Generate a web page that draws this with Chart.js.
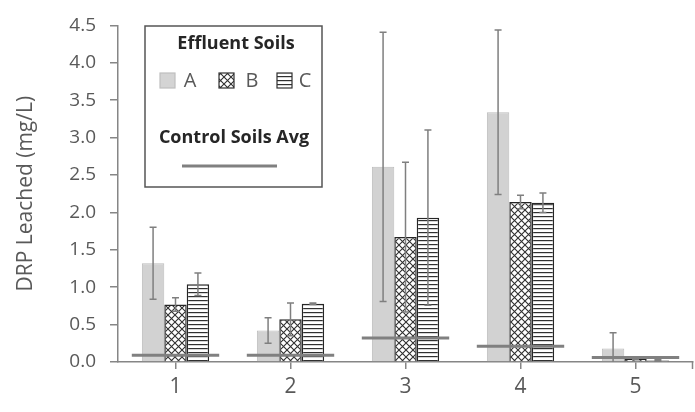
<!DOCTYPE html>
<html>
<head>
<meta charset="utf-8">
<script src="https://cdn.jsdelivr.net/npm/chart.js@4/dist/chart.umd.min.js"></script>
<style>
  html, body { margin: 0; padding: 0; background: #fff; }
  #wrap { width: 695px; height: 412px; }
</style>
</head>
<body>
<div id="wrap"><canvas id="chart" width="695" height="412"></canvas></div>
<script>
// ====== Data ======
const categories = ["1", "2", "3", "4", "5"];
const soilA = [1.32, 0.42, 2.61, 3.34, 0.18];
const soilAErr = [0.48, 0.17, 1.80, 1.10, 0.21];
const soilB = [0.77, 0.57, 1.67, 2.14, 0.04];
const soilBErr = [0.09, 0.22, 1.00, 0.09, 0.01];
const soilC = [1.04, 0.78, 1.93, 2.13, 0.02];
const soilCErr = [0.15, 0.01, 1.17, 0.13, 0.01];
const controlAvg = [0.09, 0.09, 0.32, 0.21, 0.06];
const yTicks = [0, 0.5, 1, 1.5, 2, 2.5, 3, 3.5, 4, 4.5];

const FONT = "'Open Sans', sans-serif";
const GREY_TXT = "#595959";
const AXIS = "#868686";

// ====== Patterns ======
function crossHatch() {
  const c = document.createElement("canvas");
  c.width = 7; c.height = 7;
  const g = c.getContext("2d");
  g.fillStyle = "#fff";
  g.fillRect(0, 0, 7, 7);
  g.strokeStyle = "#303030";
  g.lineWidth = 1.1;
  g.beginPath();
  g.moveTo(-1, -1); g.lineTo(8, 8);
  g.moveTo(-1, 8); g.lineTo(8, -1);
  g.stroke();
  return g.createPattern(c, "repeat");
}

function hLines() {
  const c = document.createElement("canvas");
  c.width = 4; c.height = 4;
  const g = c.getContext("2d");
  g.fillStyle = "#fff";
  g.fillRect(0, 0, 4, 4);
  g.fillStyle = "#303030";
  g.fillRect(0, 0, 4, 1.2);
  return g.createPattern(c, "repeat");
}

const patB = crossHatch();
const patC = hLines();

// ====== Error bars + control lines + legend ======
const extras = {
  id: "extras",
  afterDatasetsDraw(chart) {
    const ctx = chart.ctx;
    const x = chart.scales.x, y = chart.scales.y;
    const errs = [soilAErr, soilBErr, soilCErr];
    const vals = [soilA, soilB, soilC];

    ctx.save();
    // error bars
    ctx.strokeStyle = "#7f7f7f";
    ctx.lineWidth = 1.5;
    errs.forEach((err, d) => {
      const meta = chart.getDatasetMeta(d);
      meta.data.forEach((bar, i) => {
        const top = y.getPixelForValue(vals[d][i] + err[i]);
        const low = vals[d][i] - err[i];
        const bot = y.getPixelForValue(Math.max(0, low));
        ctx.beginPath();
        ctx.moveTo(bar.x, top); ctx.lineTo(bar.x, bot);
        ctx.moveTo(bar.x - 3.5, top); ctx.lineTo(bar.x + 3.5, top);
        if (low > 0) { ctx.moveTo(bar.x - 3.5, bot); ctx.lineTo(bar.x + 3.5, bot); }
        ctx.stroke();
      });
    });

    // control soils average lines
    const half = (x.width / categories.length) * 0.38;
    ctx.strokeStyle = "#808080";
    ctx.lineWidth = 3;
    controlAvg.forEach((v, i) => {
      const cx = x.getPixelForValue(i);
      const py = y.getPixelForValue(v);
      ctx.beginPath();
      ctx.moveTo(cx - half, py); ctx.lineTo(cx + half, py);
      ctx.stroke();
    });

    // end tick on the right of the x axis
    ctx.strokeStyle = AXIS;
    ctx.lineWidth = 1.5;
    ctx.beginPath();
    ctx.moveTo(x.right - 0.5, y.bottom); ctx.lineTo(x.right - 0.5, y.bottom + 7);
    ctx.stroke();

    // legend box
    const L = 145, T = 26, W = 177, H = 161;
    ctx.fillStyle = "#fff";
    ctx.fillRect(L, T, W, H);
    ctx.strokeStyle = "#555";
    ctx.lineWidth = 1.5;
    ctx.strokeRect(L, T, W, H);

    ctx.fillStyle = "#262626";
    ctx.textAlign = "center";
    ctx.textBaseline = "middle";
    ctx.font = "bold 18px " + FONT;
    ctx.fillText("Effluent Soils", 236, 44);
    ctx.fillText("Control Soils Avg", 234, 138);

    // swatches
    const sw = [
      { x: 160, fill: "#d4d4d4", border: "#bfbfbf", label: "A", tx: 190 },
      { x: 219, fill: patB, border: "#303030", label: "B", tx: 252 },
      { x: 277, fill: patC, border: "#303030", label: "C", tx: 305 }
    ];
    ctx.font = "20px " + FONT;
    sw.forEach(s => {
      ctx.fillStyle = s.fill;
      ctx.fillRect(s.x, 73, 15, 15);
      ctx.strokeStyle = s.border;
      ctx.lineWidth = 1.2;
      ctx.strokeRect(s.x, 73, 15, 15);
      ctx.fillStyle = GREY_TXT;
      ctx.fillText(s.label, s.tx, 81);
    });

    ctx.strokeStyle = "#808080";
    ctx.lineWidth = 3;
    ctx.beginPath();
    ctx.moveTo(182, 166); ctx.lineTo(277, 166);
    ctx.stroke();
    ctx.restore();
  }
};

new Chart(document.getElementById("chart").getContext("2d"), {
  type: "bar",
  data: {
    labels: categories,
    datasets: [
      { label: "A", data: soilA, backgroundColor: "#d2d2d2", borderColor: "#bcbcbc", borderWidth: 1 },
      { label: "B", data: soilB, backgroundColor: patB, borderColor: "#262626", borderWidth: 1.5 },
      { label: "C", data: soilC, backgroundColor: patC, borderColor: "#262626", borderWidth: 1.5 }
    ]
  },
  options: {
    responsive: false,
    animation: false,
    devicePixelRatio: 1,
    layout: { padding: { top: 21, right: 2, bottom: 10, left: 11 } },
    datasets: { bar: { categoryPercentage: 0.585, barPercentage: 1.0 } },
    plugins: { legend: { display: false }, tooltip: { enabled: false } },
    scales: {
      x: {
        grid: { display: true, drawOnChartArea: false, offset: false, color: AXIS, lineWidth: 1.5, tickLength: 7 },
        border: { color: AXIS, width: 1.5 },
        ticks: { color: GREY_TXT, font: { family: FONT, size: 21 }, padding: 5 },
        afterFit: s => { s.height = 40; }
      },
      y: {
        min: 0, max: 4.5,
        afterBuildTicks: s => { s.ticks = yTicks.map(v => ({ value: v })); },
        grid: { display: true, drawOnChartArea: false, color: AXIS, lineWidth: 1.5, tickLength: 8 },
        border: { color: AXIS, width: 1.5 },
        ticks: { color: GREY_TXT, font: { family: FONT, size: 19 }, padding: 14, callback: v => v.toFixed(1) },
        title: { display: true, text: "DRP Leached (mg/L)", color: GREY_TXT, font: { family: FONT, size: 21 }, padding: 2 },
        afterFit: s => { s.width = 107; }
      }
    }
  },
  plugins: [extras]
});
</script>
</body>
</html>
